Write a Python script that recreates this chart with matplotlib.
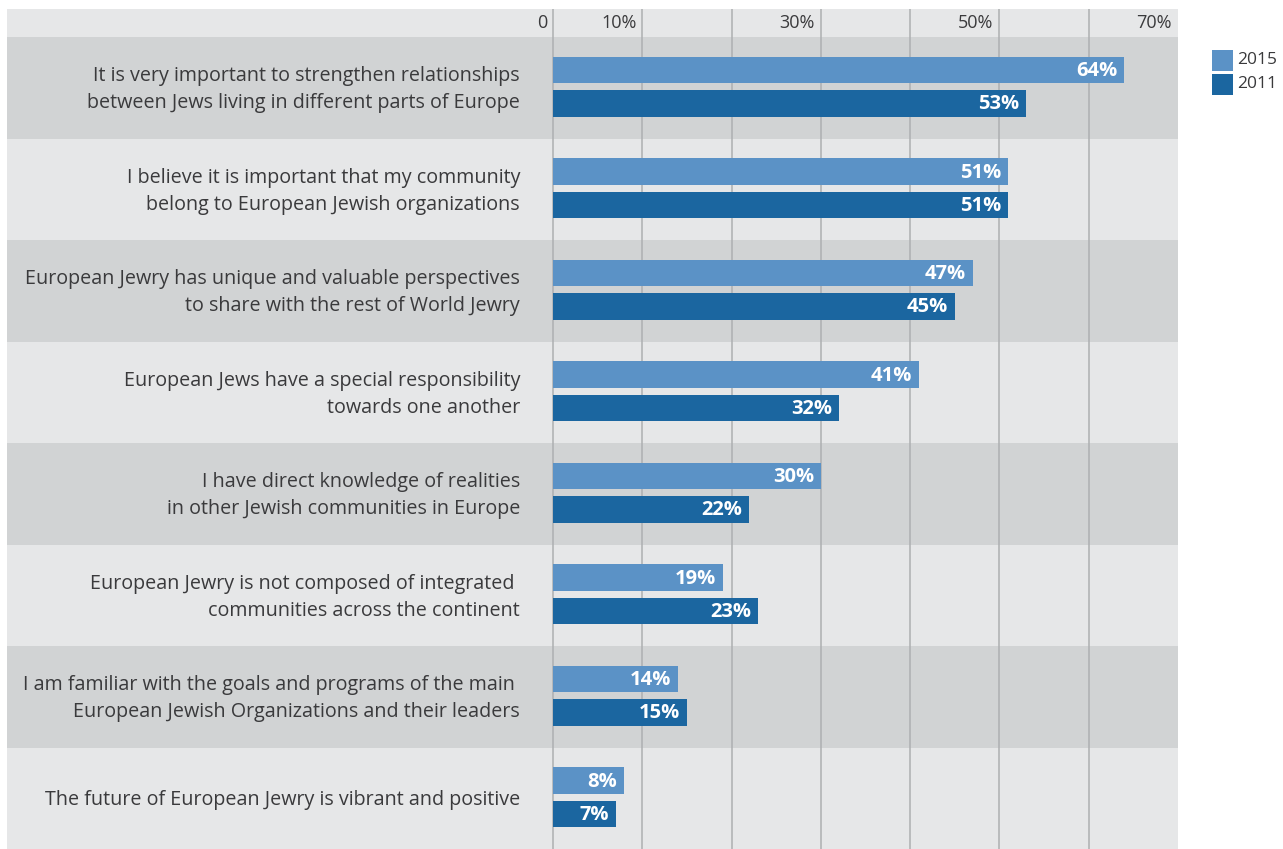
import matplotlib
matplotlib.use("Agg")
import matplotlib.pyplot as plt
from matplotlib.patches import Rectangle

plt.rcParams['font.family'] = ['Open Sans', 'DejaVu Sans']

statements = [
    "It is very important to strengthen relationships\nbetween Jews living in different parts of Europe",
    "I believe it is important that my community\nbelong to European Jewish organizations",
    "European Jewry has unique and valuable perspectives\nto share with the rest of World Jewry",
    "European Jews have a special responsibility\ntowards one another",
    "I have direct knowledge of realities\nin other Jewish communities in Europe",
    "European Jewry is not composed of integrated \ncommunities across the continent",
    "I am familiar with the goals and programs of the main \nEuropean Jewish Organizations and their leaders",
    "The future of European Jewry is vibrant and positive",
]
values_2015 = [64, 51, 47, 41, 30, 19, 14, 8]
values_2011 = [53, 51, 45, 32, 22, 23, 15, 7]
series_names = ["2015", "2011"]
tick_values = [0, 10, 30, 50, 70]
tick_labels = ["0", "10%", "30%", "50%", "70%"]

color_2015 = "#5b92c6"
color_2011 = "#1b66a0"
band_dark = "#d1d3d4"
band_light = "#e6e7e8"
grid_color = "#adafb1"
text_color = "#3a3a3c"

W, H = 1283, 849
fig = plt.figure(figsize=(W / 100, H / 100), dpi=100)

# axes spans the shaded panel: left edge of label area to the 70% line
px_left, px_right = 7, 1178
px_zero = 553
px_top, px_bottom = 9, 849
ax = fig.add_axes([px_left / W, 1 - px_bottom / H,
                   (px_right - px_left) / W, (px_bottom - px_top) / H])

units_per_px = 70 / (px_right - px_zero)
xmin = -(px_zero - px_left) * units_per_px
header = 28 / 101.5
n = len(statements)
ax.set_xlim(xmin, 70)
ax.set_ylim(n, -header)
ax.axis("off")

# header strip and alternating row bands
ax.add_patch(Rectangle((xmin, -header), 70 - xmin, header, color=band_light, lw=0, zorder=0))
for i in range(n):
    ax.add_patch(Rectangle((xmin, i), 70 - xmin, 1,
                           color=band_dark if i % 2 == 0 else band_light, lw=0, zorder=0))

# vertical gridlines every 10% (the panel edge closes the 70% column)
for g in range(0, 70, 10):
    ax.plot([g, g], [-header, n], color=grid_color, lw=1.1, zorder=1, solid_capstyle="butt")

for v, lab in zip(tick_values, tick_labels):
    ax.text(v - 6 * units_per_px, -header / 2, lab, ha="right", va="center",
            fontsize=13, color=text_color, zorder=3)

bar_h = 0.265
off = 0.165
y_centers = [i + 0.49 for i in range(n)]
ax.barh([y - off for y in y_centers], values_2015, height=bar_h, color=color_2015, zorder=2)
ax.barh([y + off for y in y_centers], values_2011, height=bar_h, color=color_2011, zorder=2)

pad = 7 * units_per_px
for y, a, b in zip(y_centers, values_2015, values_2011):
    ax.text(a - pad, y - off + 0.01, f"{a}%", ha="right", va="center", color="white",
            fontsize=14.5, fontweight="bold", zorder=3)
    ax.text(b - pad, y + off + 0.01, f"{b}%", ha="right", va="center", color="white",
            fontsize=14.5, fontweight="bold", zorder=3)

for y, s in zip(y_centers, statements):
    ax.text(-33 * units_per_px, y + 0.03, s, ha="right", va="center", fontsize=14.2,
            color=text_color, linespacing=1.45, zorder=3)

# legend on the right
for k, (name, col) in enumerate(zip(series_names, [color_2015, color_2011])):
    y0 = 50 + k * 24
    fig.patches.append(Rectangle((1212 / W, 1 - (y0 + 21) / H), 21 / W, 21 / H,
                                 transform=fig.transFigure, color=col, lw=0))
    fig.text(1237 / W, 1 - (y0 + 10.5) / H, name, ha="left", va="center",
             fontsize=12.5, color=text_color)

fig.savefig("out.png", dpi=100, facecolor="white")
